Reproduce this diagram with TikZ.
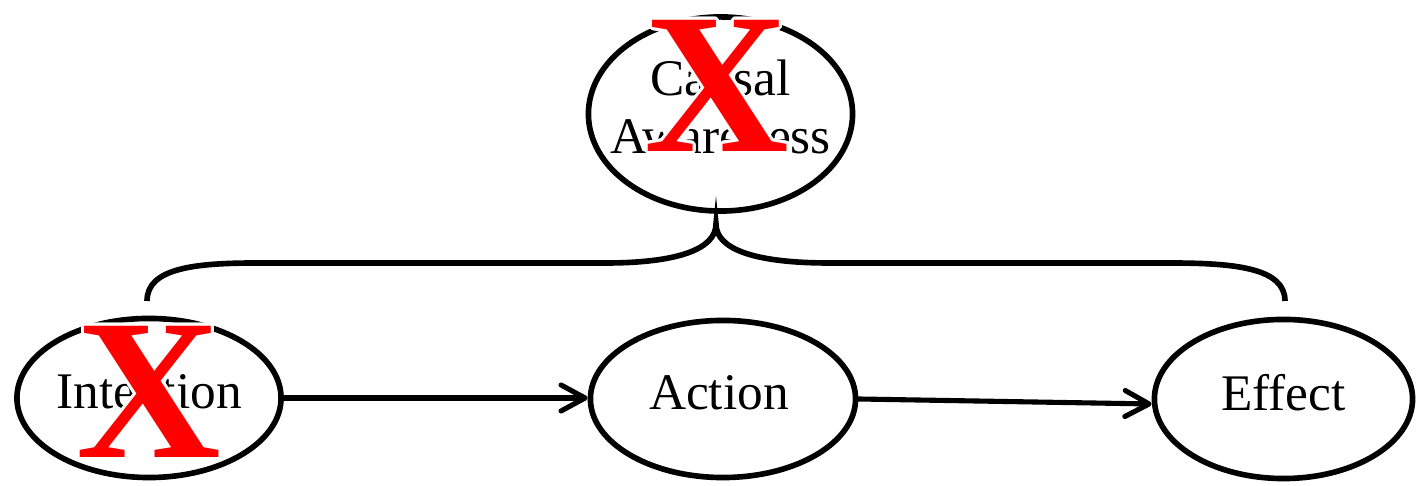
\documentclass[tikz,border=0pt]{standalone}
\usepackage{fontspec}
\setmainfont{Liberation Serif}
\usetikzlibrary{shapes.geometric,arrows.meta,calc}

\tikzset{
  oval/.style={ellipse, draw=black, line width=1.6pt, inner sep=0pt},
  ovaltext/.style={font=\fontsize{14.6pt}{16.3pt}\selectfont, align=center, inner sep=0pt},
  flow/.style={line width=1.45pt, line cap=round,
               -{Straight Barb[length=0.24cm, width=0.26cm, line cap=round, line join=round]}},
  brace/.style={line width=1.6pt, line cap=butt},
  crossglyph/.style={inner sep=0pt, font=\fontsize{57pt}{57pt}\bfseries\selectfont},
}

% large red cross with a white halo around it
\newcommand{\redcross}[2]{%
  \foreach \a in {0,22.5,...,337.5}{
    \node[crossglyph, text=white] at ($(#1)+(\a:0.03cm)$) {X};
  }
  \node[crossglyph, text=red] (#2) at (#1) {X};
}

\begin{document}
\begin{tikzpicture}[x=0.01cm, y=-0.01cm]
  \useasboundingbox (0,0) rectangle (1417,486);

  % the four ovals
  \node[oval, minimum width=2.64cm, minimum height=1.94cm] (aware) at (720.5,114) {};
  \node[oval, minimum width=2.64cm, minimum height=1.59cm] (intent) at (149,398) {};
  \node[oval, minimum width=2.65cm, minimum height=1.57cm] (act) at (723,399) {};
  \node[oval, minimum width=2.58cm, minimum height=1.59cm] (eff) at (1283.5,399) {};

  % their texts
  \node[ovaltext] (awaretxt) at ([yshift=0.07cm]aware.center) {Causal\\Awareness};
  \node[ovaltext] (intenttxt) at ([yshift=0.06cm]intent.center) {Intention};
  \node[ovaltext] (acttxt) at ([yshift=0.06cm,xshift=-0.04cm]act.center) {Action};
  \node[ovaltext] (efftxt) at ([yshift=0.06cm]eff.center) {Effect};

  % arrows along the chain
  \draw[flow] (intent.east) -- (act.west |- intent.east);
  \draw[flow] (act.east) -- ([yshift=-0.05cm]eff.west);

  % brace joining the chain to the top oval
  \coordinate (bl) at (147,301);
  \coordinate (br) at (1285,301);
  \coordinate (peak) at (716,224);
  \draw[brace] (bl) .. controls (147,268) and (195,263) .. (257,263)
    -- (606,263) .. controls (675,263) and (716,250) .. (peak)
    .. controls (716,250) and (757,263) .. (829,263)
    -- (1170,263) .. controls (1235,263) and (1285,268) .. (br);

  % crossed-out marks
  \coordinate (xa) at (717,86);
  \coordinate (xi) at (149,392);
  \redcross{xa}{crossA}
  \redcross{xi}{crossI}
\end{tikzpicture}
\end{document}
